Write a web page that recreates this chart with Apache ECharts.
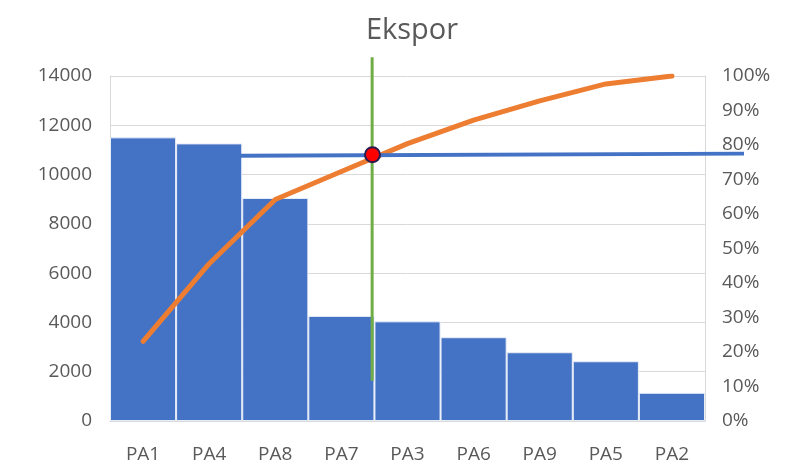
<!DOCTYPE html>
<html>
<head>
<meta charset="utf-8">
<script src="https://cdn.jsdelivr.net/npm/echarts@6/dist/echarts.min.js"></script>
<style>html,body{margin:0;padding:0;background:#fff;}#c{width:788px;height:475px;}</style>
</head>
<body>
<div id="c"></div>
<script>
var categories = ['PA1','PA4','PA8','PA7','PA3','PA6','PA9','PA5','PA2'];
var exportValues = [11510, 11265, 9050, 4265, 4045, 3400, 2790, 2425, 1145];
var cumulativePct = [23.1, 45.6, 64.2, 72.3, 80.4, 87.2, 92.8, 97.7, 100];
var leftTicks = [0, 14000, 2000];
var rightTicks = [0, 100, 10];
// overlay drawn on a value x-axis where each category band is 1 unit wide
var cutoffLine = [[1.97, 76.9], [9.59, 77.5]];
var verticalLine = [[3.965, 105.4], [3.965, 11.7]];
var intersection = [[3.97, 77.2]];

var chart = echarts.init(document.getElementById('c'), null, {renderer: 'canvas'});
var txt = '#595959';
var font = 'Open Sans';
var gridL = 110, gridR = 83, overlayR = 40, gridT = 76, gridB = 54;
var plotW = 788 - gridL - gridR;
var overlayMax = 9 * (788 - gridL - overlayR) / plotW;
chart.setOption({
  animation: false,
  title: {
    text: 'Ekspor', left: 407, top: 11, textAlign: 'center',
    textStyle: {color: txt, fontSize: 29, fontWeight: 'normal', fontFamily: font}
  },
  grid: [
    {left: gridL, right: gridR, top: gridT, bottom: gridB},
    {left: gridL, right: overlayR, top: gridT, bottom: gridB}
  ],
  xAxis: [{
    type: 'category', data: categories, gridIndex: 0,
    axisLine: {show: true, lineStyle: {color: '#d9d9d9', width: 1}},
    axisTick: {show: false},
    axisLabel: {color: txt, fontSize: 19, fontFamily: font, margin: 24}
  }, {
    type: 'value', gridIndex: 1, min: 0, max: overlayMax, show: false
  }],
  yAxis: [{
    type: 'value', gridIndex: 0, min: leftTicks[0], max: leftTicks[1], interval: leftTicks[2],
    axisLine: {show: true, lineStyle: {color: '#d9d9d9'}},
    axisTick: {show: false},
    splitLine: {show: true, lineStyle: {color: '#d9d9d9', width: 1}},
    axisLabel: {color: txt, fontSize: 19, fontFamily: font, margin: 18, padding: [3, 0, 0, 0],
      formatter: function (v) { return String(v); }}
  }, {
    type: 'value', gridIndex: 0, min: rightTicks[0], max: rightTicks[1], interval: rightTicks[2],
    position: 'right',
    axisLine: {show: true, lineStyle: {color: '#d9d9d9'}},
    axisTick: {show: false},
    splitLine: {show: false},
    axisLabel: {color: txt, fontSize: 19, fontFamily: font, margin: 17, padding: [3, 0, 0, 0], formatter: '{value}%'}
  }, {
    type: 'value', gridIndex: 1, min: 0, max: 100, show: false
  }],
  series: [{
    type: 'bar', data: exportValues, barCategoryGap: '0%',
    itemStyle: {color: '#4472C4', borderColor: '#e8eef8', borderWidth: 1}
  }, {
    type: 'line', yAxisIndex: 1, data: cumulativePct, symbol: 'none',
    lineStyle: {color: '#ED7D31', width: 5, cap: 'round', join: 'round'}
  }, {
    type: 'line', xAxisIndex: 1, yAxisIndex: 2, data: cutoffLine, symbol: 'none', clip: false, z: 3,
    lineStyle: {color: '#4472C4', width: 4}
  }, {
    type: 'line', xAxisIndex: 1, yAxisIndex: 2, data: verticalLine, symbol: 'none', clip: false, z: 4,
    lineStyle: {color: '#70AD47', width: 3}
  }, {
    type: 'scatter', xAxisIndex: 1, yAxisIndex: 2, data: intersection, symbolSize: 15, clip: false, z: 5,
    itemStyle: {color: '#ff0000', opacity: 1, borderColor: '#2a1b4e', borderWidth: 2}
  }]
});
</script>
</body>
</html>
